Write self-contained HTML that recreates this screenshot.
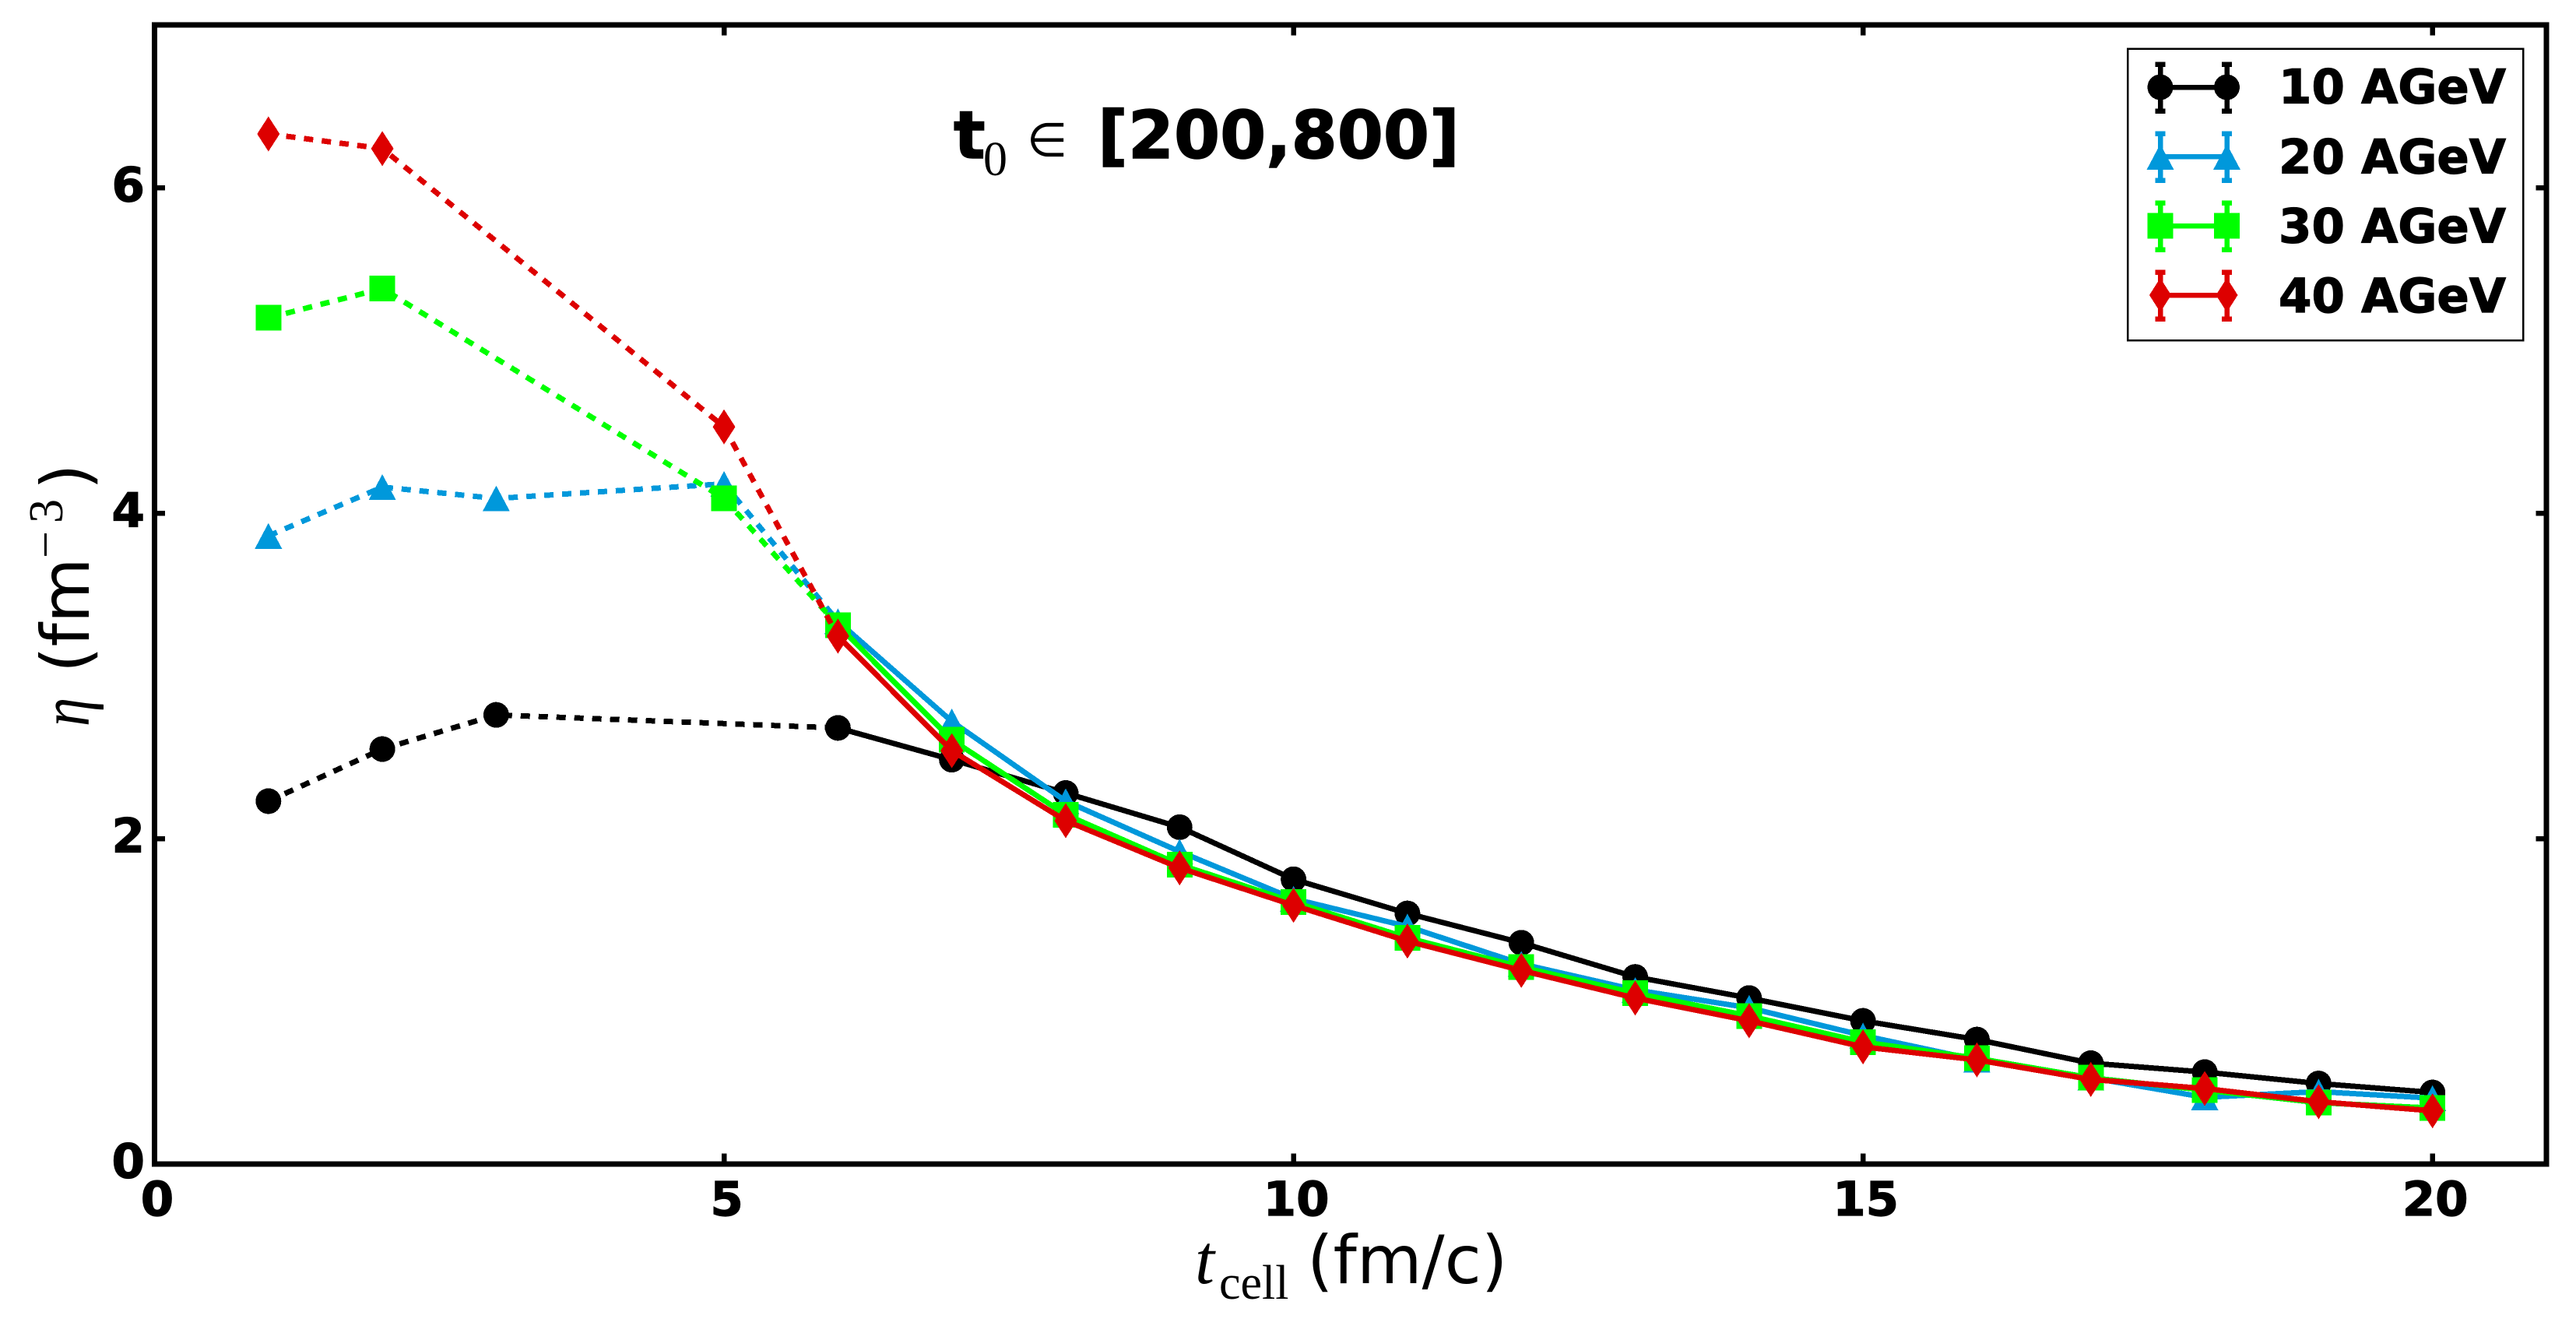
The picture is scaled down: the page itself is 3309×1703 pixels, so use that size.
<!DOCTYPE html>
<html lang="en">
<head>
<meta charset="utf-8">
<title>Eta versus t_cell chart</title>
<style>
html,body{margin:0;padding:0;background:#fff;}
svg{display:block;}
.tick{font-family:"DejaVu Sans",sans-serif;font-weight:bold;font-size:61px;fill:#000;stroke:#000;stroke-width:1.2px;}
.reg{font-family:"DejaVu Sans",sans-serif;font-size:86px;fill:#000;}
.serif{font-family:"Liberation Serif",serif;fill:#000;}
.crisp{shape-rendering:crispEdges;}
</style>
</head>
<body>
<svg id="chart" xmlns="http://www.w3.org/2000/svg" width="3309" height="1703" viewBox="0 0 3309 1703">
<rect x="0" y="0" width="3309" height="1703" fill="#fff"/>
<g id="ticks" class="crisp"></g>
<g id="marks" class="crisp"></g>
<rect class="crisp" x="198.5" y="32" width="3072.5" height="1463" fill="none" stroke="#000" stroke-width="7"/>

<g>
<text x="1225" y="203" font-family="DejaVu Sans, sans-serif" font-weight="bold" font-size="85" stroke="#000" stroke-width="1.4">t</text>
<text class="serif" x="1263" y="225" font-size="62">0</text>
<text class="serif" x="1319" y="200.5" font-size="60">∈</text>
<text x="1410" y="203" font-family="DejaVu Sans, sans-serif" font-weight="bold" font-size="85" stroke="#000" stroke-width="1.4">[200,800]</text>
</g>

<g>
<text class="serif" x="1535" y="1648" font-size="90" font-style="italic">t</text>
<text class="serif" x="1566" y="1668" font-size="62">cell</text>
<text class="reg" x="1679" y="1648">(fm/c)</text>
</g>

<g>
<text class="serif" transform="translate(114 933) rotate(-90) scale(.83 1)" font-size="90" font-style="italic">η</text>
<text class="reg" transform="translate(114 864) rotate(-90)">(fm</text>
<text class="serif" transform="translate(79 717) rotate(-90)" font-size="62">−</text>
<text class="serif" transform="translate(80 672) rotate(-90)" font-size="62">3</text>
<text class="reg" transform="translate(114 629) rotate(-90)">)</text>
</g>

<g>
<rect class="crisp" x="2733" y="62.5" width="508" height="374.5" fill="#fff" stroke="#000" stroke-width="2.5"/>

<g>
<path class="crisp" d="M2775 112H2860.5M2775 80V145M2860.5 80V145M2768.5 82.5H2781.5M2768.5 142.5H2781.5M2854 82.5H2867M2854 142.5H2867" stroke="#000" stroke-width="6.5" fill="none"/>
<circle class="crisp" cx="2775" cy="112" r="16.5" fill="#000"/>
<circle class="crisp" cx="2860.5" cy="112" r="16.5" fill="#000"/>
<text class="tick" x="2927" y="132.5">10 AGeV</text>
</g>

<g>
<path class="crisp" d="M2775 201H2860.5M2775 169V234M2860.5 169V234M2768.5 171.5H2781.5M2768.5 231.5H2781.5M2854 171.5H2867M2854 231.5H2867" stroke="#0098db" stroke-width="6.5" fill="none"/>
<path class="crisp" d="M2775 185L2792.5 218H2757.5Z" fill="#0098db"/>
<path class="crisp" d="M2860.5 185L2878 218H2843Z" fill="#0098db"/>
<text class="tick" x="2927" y="222.5">20 AGeV</text>
</g>

<g>
<path class="crisp" d="M2775 290H2860.5M2775 258V323M2860.5 258V323M2768.5 260.5H2781.5M2768.5 320.5H2781.5M2854 260.5H2867M2854 320.5H2867" stroke="#00ff00" stroke-width="6.5" fill="none"/>
<rect class="crisp" x="2758.5" y="273.5" width="33" height="33" fill="#00ff00"/>
<rect class="crisp" x="2844" y="273.5" width="33" height="33" fill="#00ff00"/>
<text class="tick" x="2927" y="311.5">30 AGeV</text>
</g>

<g>
<path class="crisp" d="M2775 379H2860.5M2775 347V412M2860.5 347V412M2768.5 349.5H2781.5M2768.5 409.5H2781.5M2854 349.5H2867M2854 409.5H2867" stroke="#dd0000" stroke-width="6.5" fill="none"/>
<path class="crisp" d="M2775 357L2789 379L2775 401L2761 379Z" fill="#dd0000"/>
<path class="crisp" d="M2860.5 357L2874.5 379L2860.5 401L2846.5 379Z" fill="#dd0000"/>
<text class="tick" x="2927" y="401">40 AGeV</text>
</g>
</g>
</svg>

<script>
const xTickValues = [0, 5, 10, 15, 20];
const yTickValues = [0, 2, 4, 6];
const xLimits = [0, 21];
const yLimits = [0, 7];
const solidFromT = 6;

const tCell10 = [1, 2, 3, 6, 7, 8, 9, 10, 11, 12, 13, 14, 15, 16, 17, 18, 19, 20];
const eta10 = [2.23, 2.55, 2.76, 2.68, 2.485, 2.28, 2.07, 1.75, 1.54, 1.36, 1.15, 1.02, 0.88, 0.765, 0.62, 0.565, 0.495, 0.44];

const tCell20 = [1, 2, 3, 5, 6, 7, 8, 9, 10, 11, 12, 13, 14, 15, 16, 17, 18, 19, 20];
const eta20 = [3.86, 4.16, 4.09, 4.18, 3.335, 2.72, 2.23, 1.92, 1.63, 1.46, 1.23, 1.07, 0.96, 0.79, 0.64, 0.53, 0.41, 0.445, 0.405];

const tCell30 = [1, 2, 5, 6, 7, 8, 9, 10, 11, 12, 13, 14, 15, 16, 17, 18, 19, 20];
const eta30 = [5.2, 5.38, 4.09, 3.31, 2.607, 2.147, 1.84, 1.61, 1.39, 1.21, 1.05, 0.91, 0.75, 0.65, 0.53, 0.454, 0.377, 0.344];

const tCell40 = [1, 2, 5, 6, 7, 8, 9, 10, 11, 12, 13, 14, 15, 16, 17, 18, 19, 20];
const eta40 = [6.33, 6.24, 4.53, 3.244, 2.54, 2.11, 1.82, 1.59, 1.37, 1.19, 1.02, 0.88, 0.72, 0.64, 0.52, 0.464, 0.383, 0.327];

const NS = 'http://www.w3.org/2000/svg';
const plotLeft = 198.5, plotRight = 3271, plotTop = 32, plotBottom = 1495;

function xScale(v) { return plotLeft + (v - xLimits[0]) / (xLimits[1] - xLimits[0]) * (plotRight - plotLeft); }
function yScale(v) { return plotBottom - (v - yLimits[0]) / (yLimits[1] - yLimits[0]) * (plotBottom - plotTop); }

function make(tag, parent, attrs) {
  const el = document.createElementNS(NS, tag);
  for (const k in attrs) el.setAttribute(k, attrs[k]);
  parent.appendChild(el);
  return el;
}

const ticksLayer = document.getElementById('ticks');
xTickValues.forEach(function (v) {
  const x = xScale(v);
  const tick = make('path', ticksLayer, { d: 'M' + x + ' ' + plotBottom + 'V' + (plotBottom - 13.5) + 'M' + x + ' ' + plotTop + 'V' + (plotTop + 13.5), stroke: '#000', 'stroke-width': 6.5, fill: 'none' });
  
  
  const label = make('text', ticksLayer, { x: x + 3.5, y: plotBottom + 66, 'text-anchor': 'middle', class: 'tick' });
  label.textContent = String(v);
  
  
});
yTickValues.forEach(function (v) {
  const y = yScale(v);
  const tick = make('path', ticksLayer, { d: 'M' + plotLeft + ' ' + y + 'H' + (plotLeft + 13.5) + 'M' + plotRight + ' ' + y + 'H' + (plotRight - 13.5), stroke: '#000', 'stroke-width': 6.5, fill: 'none' });
  
  
  const label = make('text', ticksLayer, { x: 186, y: y + 17.5, 'text-anchor': 'end', class: 'tick' });
  label.textContent = String(v);
  
  
});

function markerShape(kind, parent, cx, cy, color) {
  if (kind === 'circle') return make('circle', parent, { cx: cx, cy: cy, r: 16.5, fill: color });
  if (kind === 'square') return make('rect', parent, { x: cx - 16.5, y: cy - 16.5, width: 33, height: 33, fill: color });
  if (kind === 'triangle') return make('path', parent, { d: 'M' + cx + ' ' + (cy - 16.5) + 'L' + (cx + 17.5) + ' ' + (cy + 16.5) + 'H' + (cx - 17.5) + 'Z', fill: color });
  return make('path', parent, { d: 'M' + cx + ' ' + (cy - 22.5) + 'L' + (cx + 14.5) + ' ' + cy + 'L' + cx + ' ' + (cy + 22.5) + 'L' + (cx - 14.5) + ' ' + cy + 'Z', fill: color });
}

function drawSeries(label, xs, ys, color, kind) {
  const marks = document.getElementById('marks');
  const group = make('g', marks, {});
  
  
  const dashedPts = [], solidPts = [];
  xs.forEach(function (x, i) {
    const p = xScale(x) + ',' + yScale(ys[i]);
    if (x <= solidFromT) dashedPts.push(p);
    if (x >= solidFromT) solidPts.push(p);
  });
  const dashed = make('polyline', group, { points: dashedPts.join(' '), fill: 'none', stroke: color, 'stroke-width': 7, 'stroke-dasharray': '12 11' });
  
  
  const solid = make('polyline', group, { points: solidPts.join(' '), fill: 'none', stroke: color, 'stroke-width': 7, 'stroke-linejoin': 'round' });
  
  
  xs.forEach(function (x, i) {
    const m = markerShape(kind, group, xScale(x), yScale(ys[i]), color);
    
    
  });
}

drawSeries('10-agev', tCell10, eta10, '#000000', 'circle');
drawSeries('20-agev', tCell20, eta20, '#0098db', 'triangle');
drawSeries('30-agev', tCell30, eta30, '#00ff00', 'square');
drawSeries('40-agev', tCell40, eta40, '#dd0000', 'diamond');
</script>
</body>
</html>
